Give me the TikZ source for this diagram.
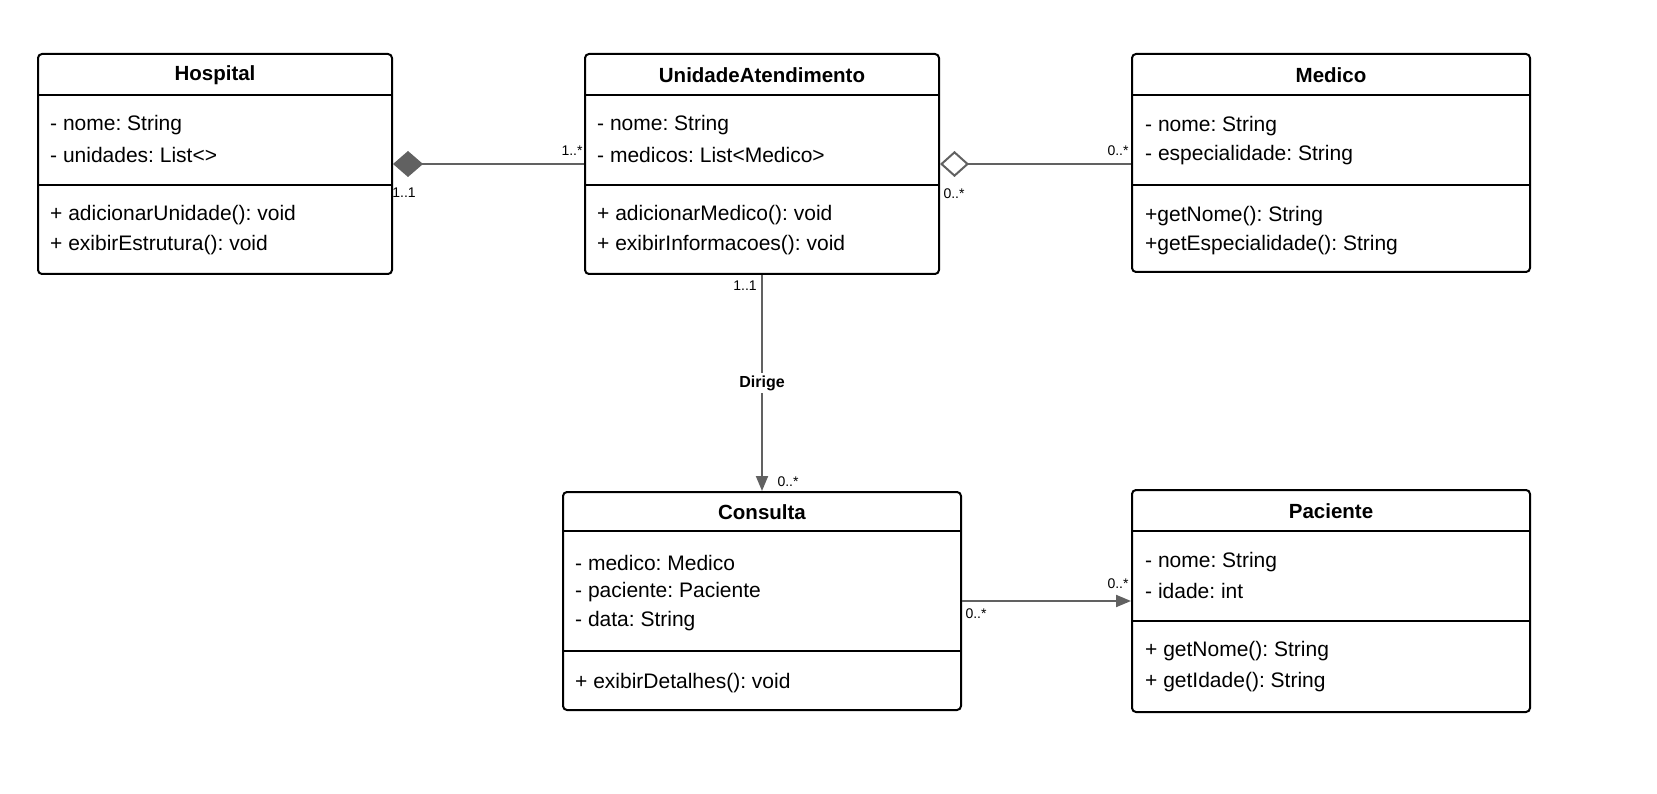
\documentclass[tikz,border=0pt]{standalone}
\usepackage{fontspec}
\setmainfont{Liberation Sans}
\usetikzlibrary{arrows.meta}
\frenchspacing
\begin{document}
\begin{tikzpicture}[x=1pt,y=-1pt,
  classbox/.style={draw=black,line width=2pt,rounded corners=4pt,inner sep=0pt,fill=white},
  ctitle/.style={font=\fontsize{20.5}{24}\selectfont\bfseries,anchor=center,inner sep=0pt},
  member/.style={font=\fontsize{21}{25}\selectfont,anchor=west,inner sep=0pt},
  mult/.style={font=\fontsize{14}{16}\selectfont,inner sep=0pt},
  divider/.style={draw=black,line width=2pt},
  conn/.style={draw=black!62,line width=2pt}]
\useasboundingbox (0,0) rectangle (1657,794);

% Hospital
\node[classbox,minimum width=354pt,minimum height=220pt] (hosp) at (215,164) {};
\node[ctitle] (hospT) at (215,75) {Hospital};
\draw[divider] (38,95) -- (392,95);
\draw[divider] (38,185) -- (392,185);
\node[member] (hosp1) at (50,125) {- nome: String};
\node[member] (hosp2) at (50,155) {- unidades: List<>};
\node[member] (hosp3) at (50,215) {+ adicionarUnidade(): void};
\node[member] (hosp4) at (50,245) {+ exibirEstrutura(): void};

% UnidadeAtendimento
\node[classbox,minimum width=354pt,minimum height=220pt] (unid) at (762,164) {};
\node[ctitle] (unidT) at (762,75) {UnidadeAtendimento};
\draw[divider] (585,95) -- (939,95);
\draw[divider] (585,185) -- (939,185);
\node[member] (unid1) at (597,125) {- nome: String};
\node[member] (unid2) at (597,155) {- medicos: List<Medico>};
\node[member] (unid3) at (597,215) {+ adicionarMedico(): void};
\node[member] (unid4) at (597,245) {+ exibirInformacoes(): void};

% Medico
\node[classbox,minimum width=398pt,minimum height=218pt] (med) at (1331,163) {};
\node[ctitle] (medT) at (1331,75) {Medico};
\draw[divider] (1132,95) -- (1530,95);
\draw[divider] (1132,185) -- (1530,185);
\node[member] (med1) at (1145,126) {- nome: String};
\node[member] (med2) at (1145,155) {- especialidade: String};
\node[member] (med3) at (1145,216) {+getNome(): String};
\node[member] (med4) at (1145,245) {+getEspecialidade(): String};

% Consulta
\node[classbox,minimum width=398pt,minimum height=218pt] (cons) at (762,601) {};
\node[ctitle] (consT) at (762,512) {Consulta};
\draw[divider] (563,531) -- (961,531);
\draw[divider] (563,651) -- (961,651);
\node[member] (cons1) at (575,563) {- medico: Medico};
\node[member] (cons2) at (575,592) {- paciente: Paciente};
\node[member] (cons3) at (575,621) {- data: String};
\node[member] (cons4) at (575,683) {+ exibirDetalhes(): void};

% Paciente
\node[classbox,minimum width=398pt,minimum height=222pt] (pac) at (1331,601) {};
\node[ctitle] (pacT) at (1331,511) {Paciente};
\draw[divider] (1132,531) -- (1530,531);
\draw[divider] (1132,621) -- (1530,621);
\node[member] (pac1) at (1145,562) {- nome: String};
\node[member] (pac2) at (1145,591) {- idade: int};
\node[member] (pac3) at (1145,651) {+ getNome(): String};
\node[member] (pac4) at (1145,682) {+ getIdade(): String};

% Connectors
\draw[conn,-{Diamond[length=30pt,width=26pt,fill=black!62]}] (unid.west) -- (hosp.east);
\node[mult] (m1) at (572,151) {1..*};
\node[mult] (m2) at (404,193) {1..1};

\draw[conn,-{Diamond[length=29pt,width=26pt,open,fill=white]}] (unid.east -| med.west) -- (unid.east);
\node[mult] (m3) at (1118,151) {0..*};
\node[mult] (m4) at (954,194) {0..*};

\draw[conn,-{Triangle[length=15pt,width=12pt]}] (unid.south) -- node[fill=white,inner sep=3pt,font=\fontsize{16}{18}\selectfont\bfseries] (dir) {Dirige} (cons.north);
\node[mult] (m5) at (745,286) {1..1};
\node[mult] (m6) at (788,482) {0..*};

\draw[conn,-{Triangle[length=15pt,width=12pt]}] (cons.east) -- (cons.east -| pac.west);
\node[mult] (m7) at (1118,584) {0..*};
\node[mult] (m8) at (976,614) {0..*};
\end{tikzpicture}
\end{document}
